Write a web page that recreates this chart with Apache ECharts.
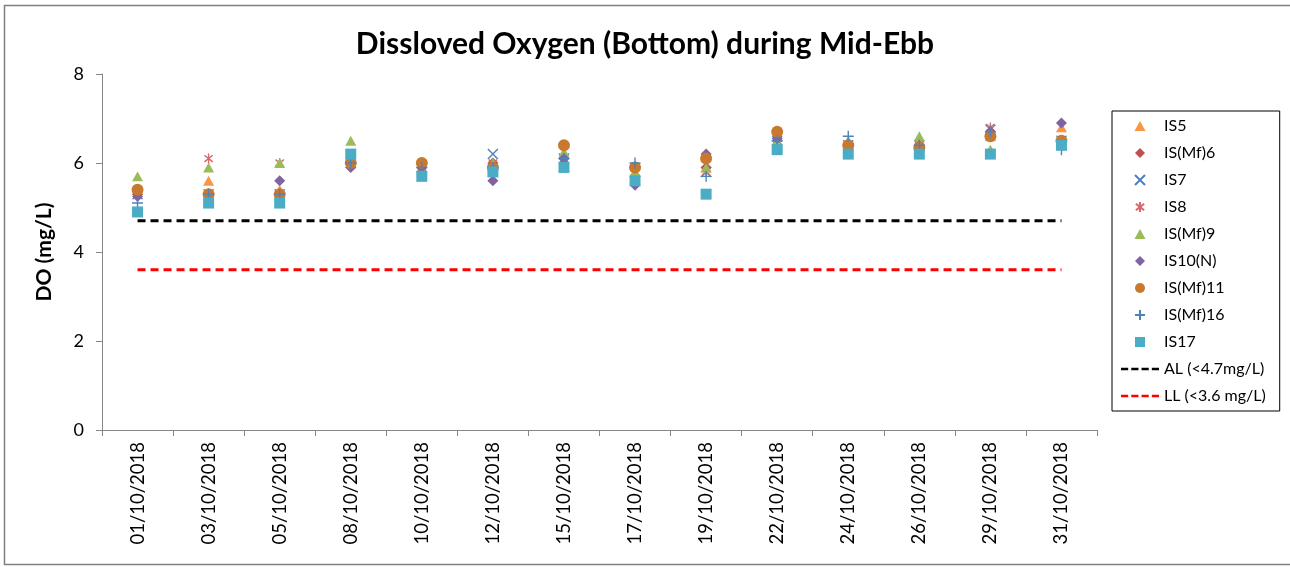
<!DOCTYPE html>
<html>
<head>
<meta charset="utf-8">
<script src="https://cdn.jsdelivr.net/npm/echarts@6/dist/echarts.min.js"></script>
<style>
  html, body { margin: 0; padding: 0; background: #ffffff; }
  #chart { width: 1290px; height: 567px; }
</style>
</head>
<body>
<div id="chart"></div>
<script>
// sampling dates (x axis)
const dates = ['01/10/2018', '03/10/2018', '05/10/2018', '08/10/2018', '10/10/2018', '12/10/2018', '15/10/2018',
  '17/10/2018', '19/10/2018', '22/10/2018', '24/10/2018', '26/10/2018', '29/10/2018', '31/10/2018']

// DO values per station (mg/L)
const is5 = [5.4, 5.6, 5.4, 6.0, 5.9, 6.0, 6.2, 5.8, 5.9, 6.5, 6.5, 6.4, 6.6, 6.8]
const isMf6 = [5.3, 5.3, 5.3, 6.0, 5.9, 6.0, 6.1, 5.7, 5.9, 6.5, 6.4, 6.4, 6.7, 6.5]
const is7 = [5.3, 5.3, 5.3, 6.0, 5.9, 6.2, 6.1, 5.8, 5.8, 6.5, 6.4, 6.4, 6.75, 6.5]
const is8 = [5.4, 6.1, 6.0, 6.0, 5.9, 6.0, 6.1, 5.8, 5.8, 6.5, 6.4, 6.4, 6.8, 6.5]
const isMf9 = [5.7, 5.9, 6.0, 6.5, 5.85, 6.0, 6.25, 5.8, 5.9, 6.5, 6.4, 6.6, 6.3, 6.5]
const is10N = [5.25, 5.3, 5.6, 5.9, 5.9, 5.6, 6.1, 5.5, 6.2, 6.55, 6.4, 6.4, 6.7, 6.9]
const isMf11 = [5.4, 5.3, 5.3, 6.0, 6.0, 5.9, 6.4, 5.9, 6.1, 6.7, 6.4, 6.35, 6.6, 6.5]
const isMf16 = [5.1, 5.3, 5.3, 6.0, 5.9, 5.9, 6.1, 6.0, 5.7, 6.5, 6.6, 6.4, 6.7, 6.3]
const is17 = [4.9, 5.1, 5.1, 6.2, 5.7, 5.8, 5.9, 5.6, 5.3, 6.3, 6.2, 6.2, 6.2, 6.4]

// action / limit levels
const alLevel = 4.7
const llLevel = 3.6

const chart = echarts.init(document.getElementById('chart'))

const FONT = 'Lato, "Open Sans", sans-serif'

// marker shapes as paths so the legend keeps their aspect
const trianglePath = 'path://M5,0L10,9L0,9Z'
const diamondPath = 'path://M5,0L10,5L5,10L0,5Z'
const squarePath = 'path://M0,0L10,0L10,10L0,10Z'
const crossPath = 'path://M0,0L10,10M10,0L0,10'
const starPath = 'path://M0,1L10,9M10,1L0,9M5,-1L5,11'
const plusPath = 'path://M5,0L5,10M0,5L10,5'
const dashPath = 'path://M0,0h7v2.4h-7zM10,0h7v2.4h-7zM20,0h7v2.4h-7zM30,0h7v2.4h-7z'

function markers(name, data, symbol, size, color) {
  return {
    name: name,
    type: 'scatter',
    data: data,
    symbol: symbol,
    symbolSize: size,
    symbolKeepAspect: true,
    itemStyle: { color: color, opacity: 1 }
  }
}

function strokeMarkers(name, data, symbol, size, color) {
  return {
    name: name,
    type: 'scatter',
    data: data,
    symbol: symbol,
    symbolSize: size,
    symbolKeepAspect: true,
    itemStyle: { color: 'rgba(0,0,0,0)', borderColor: color, borderWidth: 1.4, opacity: 1 }
  }
}

function levelLine(name, level, color) {
  return {
    name: name,
    type: 'line',
    data: dates.map(() => level),
    symbol: 'none',
    silent: true,
    lineStyle: { color: color, width: 3, type: [8, 5] },
    itemStyle: { color: color }
  }
}

const series = [
  markers('IS5', is5, trianglePath, 11, '#F79646'),
  markers('IS(Mf)6', isMf6, diamondPath, 11, '#C0504D'),
  strokeMarkers('IS7', is7, crossPath, 10, '#4F81BD'),
  strokeMarkers('IS8', is8, starPath, 10, '#D9666A'),
  markers('IS(Mf)9', isMf9, trianglePath, 11, '#9BBB59'),
  markers('IS10(N)', is10N, diamondPath, 11, '#8064A2'),
  markers('IS(Mf)11', isMf11, 'circle', 12, '#C8782F'),
  strokeMarkers('IS(Mf)16', isMf16, plusPath, 11, '#4F81BD'),
  markers('IS17', is17, squarePath, 11, '#4BACC6'),
  levelLine('AL (<4.7mg/L)', alLevel, '#000000'),
  levelLine('LL (<3.6 mg/L)', llLevel, '#FF0000')
]

// legend entries: lines get a dashed icon like the reference
const legendData = series.map(s => {
  if (s.type === 'line') {
    return { name: s.name, icon: dashPath, itemStyle: { color: s.lineStyle.color, borderWidth: 0 } }
  }
  return { name: s.name }
})

const option = {
  backgroundColor: '#ffffff',
  animation: false,
  title: {
    text: 'Dissloved Oxygen (Bottom) during Mid-Ebb',
    left: 'center',
    top: 24,
    textStyle: { fontFamily: FONT, fontSize: 30, fontWeight: 'bold', color: '#000000' }
  },
  legend: {
    orient: 'vertical',
    left: 1112,
    top: 111,
    padding: [7, 14, 7, 9],
    itemWidth: 38,
    itemHeight: 10,
    itemGap: 11,
    borderColor: '#000000',
    borderWidth: 1,
    symbolKeepAspect: true,
    textStyle: { fontFamily: FONT, fontSize: 16, color: '#000000' },
    data: legendData
  },
  grid: {
    left: 102,
    right: 193,
    top: 74,
    bottom: 137,
    containLabel: false
  },
  xAxis: {
    type: 'category',
    data: dates,
    boundaryGap: true,
    axisLine: { lineStyle: { color: '#868686', width: 1 } },
    axisTick: { show: true, length: 6, lineStyle: { color: '#868686' } },
    axisLabel: {
      rotate: 90,
      interval: 0,
      margin: 12,
      fontFamily: FONT,
      fontSize: 18.5,
      color: '#000000'
    }
  },
  yAxis: {
    type: 'value',
    min: 0,
    max: 8,
    interval: 2,
    name: 'DO (mg/L)',
    nameLocation: 'middle',
    nameGap: 47,
    nameRotate: 90,
    nameTextStyle: { fontFamily: FONT, fontSize: 21, fontWeight: 'bold', color: '#000000' },
    axisLine: { show: true, lineStyle: { color: '#868686', width: 1 } },
    axisTick: { show: true, length: 6, lineStyle: { color: '#868686' } },
    axisLabel: { margin: 18, fontFamily: FONT, fontSize: 18, color: '#000000' },
    splitLine: { show: false }
  },
  graphic: [{
    type: 'rect',
    shape: { x: 4.5, y: 5.5, width: 1300, height: 559 },
    style: { fill: 'none', stroke: '#7f7f7f', lineWidth: 1.5 },
    silent: true
  }],
  series: series
}

chart.setOption(option)
</script>
</body>
</html>
